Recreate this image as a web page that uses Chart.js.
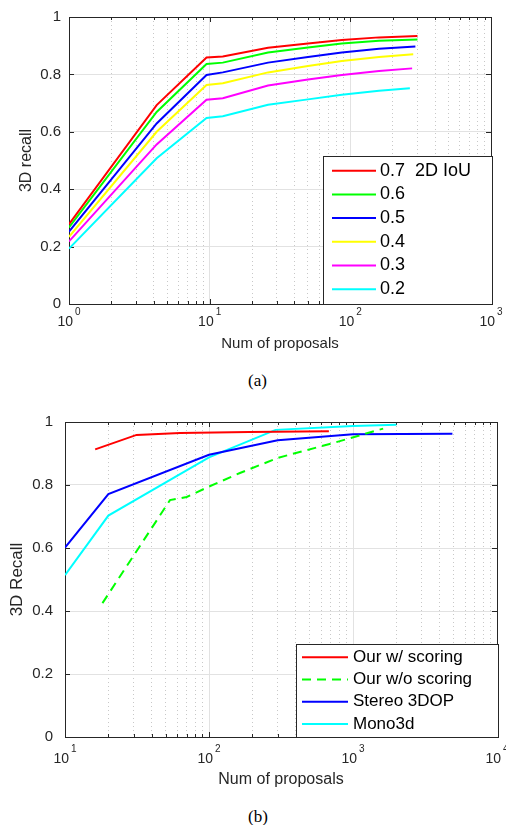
<!DOCTYPE html>
<html>
<head>
<meta charset="utf-8">
<script src="https://cdn.jsdelivr.net/npm/chart.js@4.4.1/dist/chart.umd.min.js"></script>
<style>
  html, body { margin: 0; padding: 0; background: #fff; }
  #page { position: relative; width: 506px; height: 825px; }
  .wrap { position: absolute; left: 0; width: 506px; }
  .cap { position: absolute; left: 248px; font-family: 'Liberation Serif', 'Times New Roman', serif; font-size: 17px; line-height: 17px; color: #000; }
</style>
</head>
<body>
<div id="page">
  <div class="wrap" style="top:0"><canvas id="chartA" width="506" height="365"></canvas></div>
  <div class="cap" style="top:372px">(a)</div>
  <div class="wrap" style="top:400px"><canvas id="chartB" width="506" height="392"></canvas></div>
  <div class="cap" style="top:808px">(b)</div>
</div>
<script>
// ─── (a) 3D recall vs proposals, one curve per 2D IoU threshold ───
const iouLabels = ['0.7  2D IoU', '0.6', '0.5', '0.4', '0.3', '0.2'];
const iouColors = ['#ff0000', '#00ff00', '#0000ff', '#ffff00', '#ff00ff', '#00ffff'];
const proposalsA = [1, 4.2, 9.5, 12.4, 26, 50, 87, 160];
const lastProposalA = [300, 300, 290, 280, 275, 265];
const recall07 = [0.278, 0.693, 0.859, 0.862, 0.893, 0.908, 0.920, 0.929, 0.934];
const recall06 = [0.267, 0.669, 0.836, 0.841, 0.876, 0.894, 0.908, 0.917, 0.922];
const recall05 = [0.252, 0.629, 0.798, 0.807, 0.841, 0.861, 0.876, 0.889, 0.897];
const recall04 = [0.234, 0.600, 0.763, 0.769, 0.807, 0.829, 0.847, 0.861, 0.870];
const recall03 = [0.218, 0.556, 0.712, 0.717, 0.761, 0.782, 0.798, 0.812, 0.821];
const recall02 = [0.193, 0.508, 0.648, 0.654, 0.694, 0.713, 0.729, 0.743, 0.752];
const decadesA = [1, 10, 100, 1000];

// ─── (b) comparison with other methods ───
const methodLabels = ['Our w/ scoring', 'Our w/o scoring', 'Stereo 3DOP', 'Mono3d'];
const methodColors = ['#ff0000', '#00ff00', '#0000ff', '#00ffff'];
const oursProps = [16.2, 31.4, 63, 190, 680];
const oursRecall = [0.913, 0.959, 0.965, 0.968, 0.971];
const noScoreProps = [18.2, 53.6, 70, 100, 164, 300, 700, 1620];
const noScoreRecall = [0.425, 0.752, 0.762, 0.795, 0.838, 0.886, 0.931, 0.979];
const dopProps = [10, 20, 100, 300, 1000, 4900];
const dopRecall = [0.601, 0.771, 0.896, 0.942, 0.961, 0.963];
const monoProps = [10, 20, 100, 290, 1000, 2000];
const monoRecall = [0.514, 0.703, 0.888, 0.975, 0.987, 0.991];
const decadesB = [10, 100, 1000, 10000];

const FONT = '"Liberation Sans", Arial, Helvetica, sans-serif';
const INK = '#262626';
Chart.defaults.font.family = FONT;
Chart.defaults.color = INK;

const pts = (xs, ys) => ys.map((y, i) => ({ x: xs[i], y }));

// log axis: every 1..9 x 10^e, majors at the decades
function logTicks(min, max) {
  const out = [];
  for (let e = Math.round(Math.log10(min)); e < Math.round(Math.log10(max)); e++)
    for (let k = 1; k < 10; k++) out.push({ value: k * Math.pow(10, e), major: k === 1 });
  out.push({ value: max, major: true });
  return out;
}

// box round the axes + inward ticks (matlab style)
const frame = {
  id: 'frame',
  beforeDatasetsDraw(chart) {
    const { ctx, chartArea: a, scales: { x, y } } = chart;
    ctx.save();
    ctx.strokeStyle = INK;
    ctx.lineWidth = 1;
    ctx.strokeRect(a.left + 0.5, a.top + 0.5, a.right - a.left, a.bottom - a.top);
    ctx.beginPath();
    x.ticks.forEach(t => {
      const px = Math.round(x.getPixelForValue(t.value)) + 0.5;
      const len = t.major ? 5 : 3;
      ctx.moveTo(px, a.bottom); ctx.lineTo(px, a.bottom - len);
      ctx.moveTo(px, a.top); ctx.lineTo(px, a.top + len);
    });
    y.ticks.forEach(t => {
      const py = Math.round(y.getPixelForValue(t.value)) + 0.5;
      ctx.moveTo(a.left, py); ctx.lineTo(a.left + 5, py);
      ctx.moveTo(a.right, py); ctx.lineTo(a.right - 5, py);
    });
    ctx.stroke();
    ctx.restore();
  },
  afterDraw(chart, args, o) {
    // 10^n labels under the decades
    const { ctx, chartArea: a, scales: { x } } = chart;
    ctx.save();
    ctx.fillStyle = INK;
    ctx.textBaseline = 'middle';
    ctx.textAlign = 'left';
    o.decades.forEach(v => {
      const px = x.getPixelForValue(v);
      const exp = String(Math.round(Math.log10(v)));
      ctx.font = `14px ${FONT}`;
      const wb = ctx.measureText('10').width;
      ctx.font = `10px ${FONT}`;
      const we = ctx.measureText(exp).width;
      const x0 = px - (wb + 2 + we) / 2;
      const yb = a.bottom + o.dy;
      ctx.font = `14px ${FONT}`;
      ctx.fillText('10', x0, yb);
      ctx.font = `10px ${FONT}`;
      ctx.fillText(exp, x0 + wb + 2, yb - 10);
    });
    ctx.restore();
  }
};

// legend in a box inside the plot
const boxLegend = {
  id: 'boxLegend',
  afterDraw(chart, args, o) {
    const ctx = chart.ctx;
    ctx.save();
    ctx.fillStyle = '#fff';
    ctx.fillRect(o.x, o.y, o.w, o.h);
    ctx.strokeStyle = INK;
    ctx.lineWidth = 1;
    ctx.strokeRect(o.x + 0.5, o.y + 0.5, o.w, o.h);
    ctx.font = `${o.size}px ${FONT}`;
    ctx.textBaseline = 'middle';
    ctx.textAlign = 'left';
    chart.data.datasets.forEach((ds, i) => {
      const yy = o.rowY + i * o.rowGap;
      ctx.strokeStyle = ds.borderColor;
      ctx.lineWidth = 2;
      ctx.setLineDash(ds.borderDash || []);
      ctx.beginPath();
      ctx.moveTo(o.lineX0, yy);
      ctx.lineTo(o.lineX1, yy);
      ctx.stroke();
      ctx.setLineDash([]);
      ctx.fillStyle = '#000';
      ctx.fillText(ds.label, o.textX, yy);
    });
    ctx.restore();
  }
};

function xAxis(min, max, height, title, titleSize, titlePad) {
  return {
    type: 'logarithmic', min, max,
    afterBuildTicks: s => { s.ticks = logTicks(min, max); },
    afterFit: s => { s.height = height; },
    ticks: { display: false },
    grid: {
      drawTicks: false,
      color: c => (c.tick && c.tick.major) ? '#e2e2e2' : '#c8c8c8'
    },
    border: { display: false, dash: c => (c.tick && c.tick.major) ? [] : [1, 3] },
    title: { display: true, text: title, color: INK, font: { size: titleSize }, padding: { top: 0, bottom: titlePad } }
  };
}

function yAxis(width, title, titleSize, titlePad, tickPad) {
  return {
    min: 0, max: 1,
    afterFit: s => { s.width = width; },
    ticks: {
      stepSize: 0.2, padding: tickPad, color: INK, font: { size: 15 },
      callback: v => String(+v.toFixed(1))
    },
    grid: { drawTicks: false, color: '#e2e2e2' },
    border: { display: false },
    title: { display: true, text: title, color: INK, font: { size: titleSize }, padding: { top: titlePad, bottom: 0 } }
  };
}

const seriesA = [recall07, recall06, recall05, recall04, recall03, recall02];
new Chart(document.getElementById('chartA'), {
  type: 'line',
  data: {
    datasets: seriesA.map((ys, i) => ({
      label: iouLabels[i],
      data: pts([...proposalsA, lastProposalA[i]], ys),
      borderColor: iouColors[i],
      borderWidth: 2,
      pointRadius: 0,
      tension: 0
    }))
  },
  options: {
    responsive: false,
    animation: false,
    layout: { padding: { top: 14, right: 15, left: 0, bottom: 0 } },
    scales: {
      x: xAxis(1, 1000, 61, 'Num of proposals', 15, 12),
      y: yAxis(69, '3D recall', 16, 17, 8)
    },
    plugins: {
      legend: { display: false },
      tooltip: { enabled: false },
      frame: { decades: decadesA, dy: 18.5 },
      boxLegend: { x: 323, y: 156, w: 169, h: 148, rowY: 170.7, rowGap: 23.7, lineX0: 332, lineX1: 376, textX: 380, size: 18 }
    }
  },
  plugins: [frame, boxLegend]
});

const seriesB = [
  [oursProps, oursRecall, []],
  [noScoreProps, noScoreRecall, [9, 6]],
  [dopProps, dopRecall, []],
  [monoProps, monoRecall, []]
];
new Chart(document.getElementById('chartB'), {
  type: 'line',
  data: {
    datasets: seriesB.map(([xs, ys, dash], i) => ({
      label: methodLabels[i],
      data: pts(xs, ys),
      borderColor: methodColors[i],
      borderDash: dash,
      borderWidth: 2,
      pointRadius: 0,
      tension: 0
    }))
  },
  options: {
    responsive: false,
    animation: false,
    layout: { padding: { top: 22, right: 9, left: 0, bottom: 0 } },
    scales: {
      x: xAxis(10, 10000, 55, 'Num of proposals', 16, 3),
      y: yAxis(65, '3D Recall', 17, 7, 12)
    },
    plugins: {
      legend: { display: false },
      tooltip: { enabled: false },
      frame: { decades: decadesB, dy: 22 },
      boxLegend: { x: 296, y: 244, w: 202, h: 93, rowY: 257.3, rowGap: 22.2, lineX0: 302, lineX1: 348, textX: 353, size: 17 }
    }
  },
  plugins: [frame, boxLegend]
});
</script>
</body>
</html>
